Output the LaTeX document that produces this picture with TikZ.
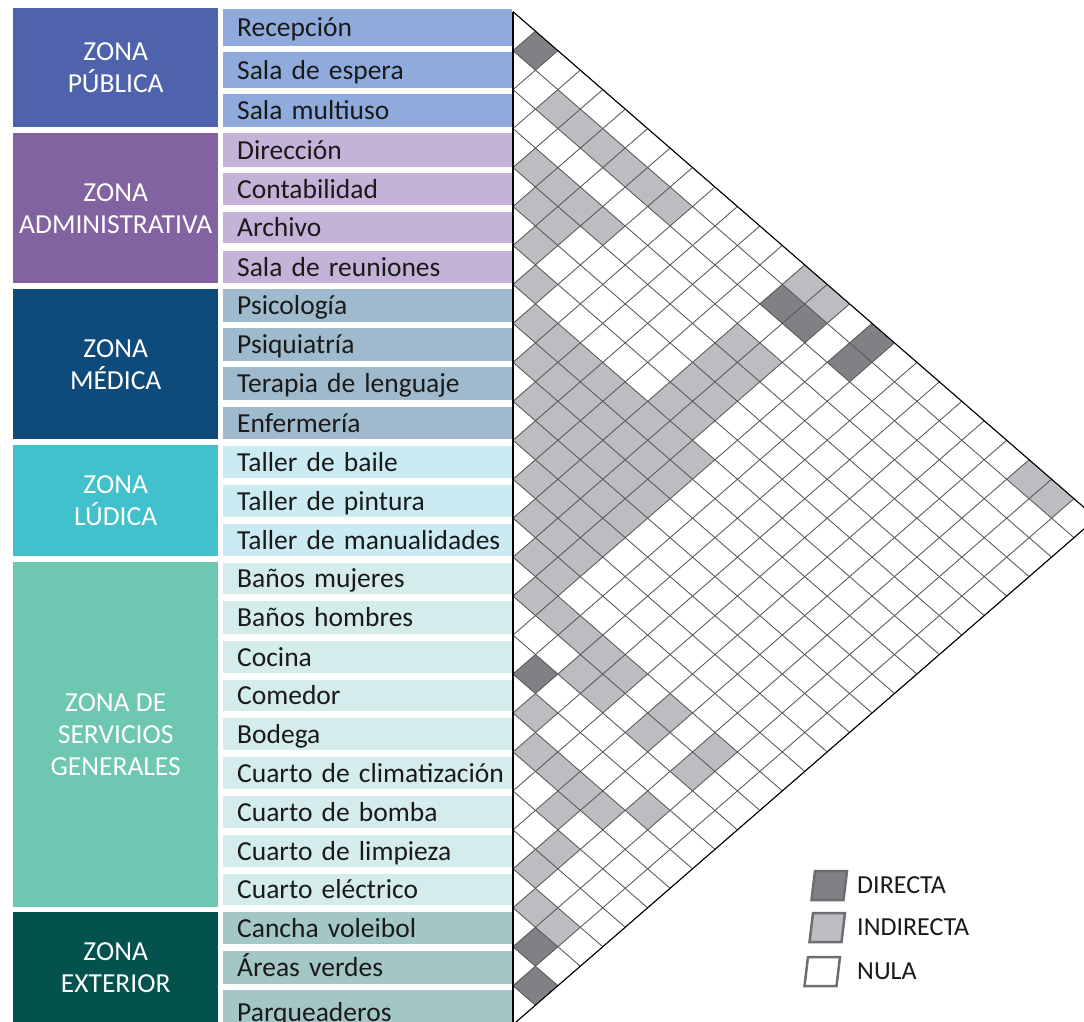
\documentclass[tikz,border=0pt]{standalone}
\usepackage{fontspec}
\setmainfont{Carlito}
\usepackage{tikz}
\usetikzlibrary{positioning}
\definecolor{ink}     {HTML}{1A1A1A}
\definecolor{pubzone} {HTML}{4F63AC}
\definecolor{pubrow}  {HTML}{8FABDC}
\definecolor{admzone} {HTML}{8163A1}
\definecolor{admrow}  {HTML}{C4B2D8}
\definecolor{medzone} {HTML}{0E4A7A}
\definecolor{medrow}  {HTML}{9FBACC}
\definecolor{ludzone} {HTML}{41C1CB}
\definecolor{ludrow}  {HTML}{CBEBF2}
\definecolor{serzone} {HTML}{6DC7B1}
\definecolor{serrow}  {HTML}{D4ECEB}
\definecolor{extzone} {HTML}{04524E}
\definecolor{extrow}  {HTML}{A2C7C5}
\definecolor{dirfill} {HTML}{7F8184}
\definecolor{indfill} {HTML}{BBBDC0}
\definecolor{legedge} {HTML}{6D6E71}
\tikzset{
  % --- left columns
  zonebox/.style = {draw=none, text=white, align=center, inner sep=0pt,
                    minimum width=205pt, anchor=north west,
                    font=\fontsize{27.5}{32}\selectfont},
  rowbox/.style  = {draw=none, text=ink, align=left, inner sep=0pt,
                    text width=289pt, text height=22pt, text depth=4pt,
                    anchor=north west, font=\fontsize{27.5}{30}\selectfont,
                    execute at begin node={\hspace*{14pt}}},
  % --- matrix
  gridline/.style = {draw=black!66, line width=0.85pt},
  frame/.style    = {draw=black, line width=1pt},
  % --- legend
  legbox/.style  = {draw=legedge, line width=2.5pt, line join=miter},
  legtext/.style = {anchor=west, inner sep=0pt, text=ink,
                    font=\fontsize{26}{30}\selectfont},
}
% one cell (i,j) of the relation matrix
\newcommand\relcell[3]{%
  \pgfmathtruncatemacro\cd{#2-#1}%
  \pgfmathtruncatemacro\ck{#1+#2-1}%
  \fill[#3] (\cd-1,\ck) -- ++(1,-1) -- ++(1,1) -- ++(-1,1) -- cycle;}

\begin{document}
\begin{tikzpicture}[x=1pt, y=-1pt]
  \clip (0,0) rectangle (1084,1022);
  \fill[white] (0,0) rectangle (1084,1022);

  % zones
  \foreach \n/\t/\b/\c/\txt in {zpub/8/127/pubzone/{ZONA\\PÚBLICA},
      zadm/133/283/admzone/{ZONA\\ADMINISTRATIVA},
      zmed/289/439/medzone/{ZONA\\MÉDICA},
      zlud/445/556/ludzone/{ZONA\\LÚDICA},
      zser/562/907/serzone/{ZONA DE\\SERVICIOS\\GENERALES},
      zext/912/1022/extzone/{ZONA\\EXTERIOR}}
    \node[zonebox, fill=\c, minimum height={(\b-\t)*1pt}] (\n) at (13,\t) {\txt};

  % spaces
  \foreach \n/\t/\b/\c/\txt in {r1/9/46/pubrow/Recepción, r2/52/88/pubrow/Sala de espera,
      r3/94/127/pubrow/Sala multiuso, r4/133/167/admrow/Dirección,
      r5/173/205/admrow/Contabilidad, r6/212/243/admrow/Archivo,
      r7/251/283/admrow/Sala de reuniones, r8/289/322/medrow/Psicología,
      r9/328/361/medrow/Psiquiatría, r10/367/400/medrow/Terapia de lenguaje,
      r11/407/439/medrow/Enfermería, r12/446/478/ludrow/Taller de baile,
      r13/485/517/ludrow/Taller de pintura, r14/524/556/ludrow/Taller de manualidades,
      r15/563/594/serrow/Baños mujeres, r16/601/634/serrow/Baños hombres,
      r17/641/673/serrow/Cocina, r18/680/711/serrow/Comedor,
      r19/718/750/serrow/Bodega, r20/757/789/serrow/Cuarto de climatización,
      r21/796/828/serrow/Cuarto de bomba, r22/835/867/serrow/Cuarto de limpieza,
      r23/874/905/serrow/Cuarto eléctrico, r24/912/944/extrow/Cancha voleibol,
      r25/951/984/extrow/Áreas verdes, r26/990/1034/extrow/Parqueaderos}
    \node[rowbox, fill=\c, minimum height={(\b-\t)*1pt}] (\n) at (223,\t) {\txt};

  % relation matrix
  \begin{scope}[shift={(513,11.7)}, x=22.44pt, y=-19.48pt]
    \fill[white] (0,0) -- (26,26) -- (0,52) -- cycle;
    \foreach \i/\j in {2/4,2/5,2/6,2/7,2/8,2/9,
        4/5,4/6,4/7,4/8,5/6,5/7,6/7,7/8,
        1/14,1/15,1/24,1/25,
        4/14,4/15,5/14,5/15,6/14,6/15,7/14,7/15,
        15/17,15/18,15/19,15/20,16/19,16/20,18/19,15/22,16/22,15/24,16/24,
        19/20,19/21,19/22,19/23,20/22,18/24,21/23,22/23,23/24,23/25}
      \relcell{\i}{\j}{indfill};
    \foreach \i in {8,...,15}{
      \pgfmathtruncatemacro\jj{\i+1}
      \foreach \j in {\jj,...,16}
        \relcell{\i}{\j}{indfill};
    }
    \foreach \i/\j in {1/2,2/14,2/15,1/17,2/17,17/18,24/25,25/26}
      \relcell{\i}{\j}{dirfill};
    \foreach \m in {0,...,26}{
      \draw[gridline] (0,2*\m) -- ({26-\m},{26+\m});
      \draw[gridline] (0,2*\m) -- (\m,\m);
    }
    \draw[frame] (0,0) -- (26,26) -- (0,52);
    \draw[frame, line width=1.5pt] (0,0) -- (0,52);
  \end{scope}

  % legend
  \foreach \n/\x/\y/\c/\txt in {legd/815/871/dirfill/DIRECTA,
      legi/813/913/indfill/INDIRECTA, legn/808/957/white/NULA}{
    \draw[legbox, fill=\c] (\x,\y) -- ++(32,0) -- ++(-3.5,29) -- ++(-32,0) -- cycle;
    \node[legtext] (\n) at (857,\y+14.5) {\txt};
  }
\end{tikzpicture}
\end{document}
